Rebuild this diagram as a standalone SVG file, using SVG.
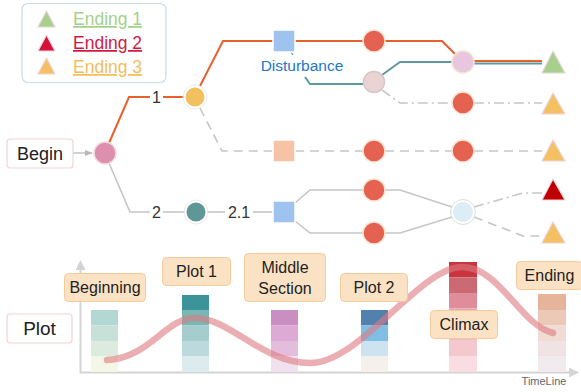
<svg xmlns="http://www.w3.org/2000/svg" width="581" height="392" viewBox="0 0 581 392">
<style>
  text { font-family: "Liberation Sans", Arial, sans-serif; }
  .lbl { font-size: 16px; fill: #222; text-anchor: middle; dominant-baseline: central; }
  .num { font-size: 16px; fill: #333; text-anchor: middle; dominant-baseline: central; }
  .box { fill: #fce2c4; stroke: #f6cb9c; stroke-width: 1; }
  .red { fill: #e56150; stroke: #f6e6d3; stroke-width: 1.5; }
  .sq { stroke: #ffffff; stroke-width: 1.5; }
  .tri { stroke: #ead3dc; stroke-width: 1.2; stroke-linejoin: round; }
  .orange { fill: none; stroke: #e8602c; stroke-width: 2; }
  .gray { fill: none; stroke: #c6c6c6; stroke-width: 1.6; }
  .dash { fill: none; stroke: #c6c6c6; stroke-width: 1.6; stroke-dasharray: 9 6; }
  .dashdot { fill: none; stroke: #c6c6c6; stroke-width: 1.6; stroke-dasharray: 10 4 2 4; }
  .teal { fill: none; stroke: #5e9aa0; stroke-width: 2; }
  .axis { stroke: #d4d4d4; stroke-width: 2; fill: none; }
</style>
<defs>
  <marker id="arr" viewBox="0 0 10 10" refX="9" refY="5" markerWidth="6" markerHeight="6" orient="auto">
    <path d="M0,1 L10,5 L0,9 Z" fill="#b8b8b8"/>
  </marker>
  <marker id="axarr" viewBox="0 0 10 10" refX="8" refY="5" markerWidth="5" markerHeight="5" orient="auto">
    <path d="M0,0 L10,5 L0,10 Z" fill="#d4d4d4"/>
  </marker>
</defs>
<rect width="581" height="392" fill="#ffffff"/>

<!-- Legend -->
<g id="legend">
  <rect x="22" y="3.5" width="144" height="79" rx="6" fill="#ffffff" stroke="#c8dbef" stroke-width="1.2"/>
  <polygon points="46.5,11 38,27 55,27" fill="#a8d08d" class="tri"/>
  <polygon points="46.5,35 38,51 55,51" fill="#d5133a" class="tri"/>
  <polygon points="46.5,58 38,74 55,74" fill="#f4c062" class="tri"/>
  <text x="73" y="25" font-size="17.5" fill="#a5d08a" text-decoration="underline">Ending 1</text>
  <text x="73" y="49" font-size="17.5" fill="#d21a3e" text-decoration="underline">Ending 2</text>
  <text x="73" y="73" font-size="17.5" fill="#f3bd5c" text-decoration="underline">Ending 3</text>
</g>

<!-- Connectors -->
<g id="connectors">
  <line x1="73" y1="153" x2="92" y2="153" stroke="#b8b8b8" stroke-width="1.3" marker-end="url(#arr)"/>
  <polyline class="orange" points="109,143 129,97 150,97"/>
  <line class="orange" x1="163" y1="97" x2="185" y2="97"/>
  <polyline class="orange" points="200,86 223,41 273,41"/>
  <line class="orange" x1="295" y1="41" x2="363" y2="41"/>
  <polyline class="orange" points="385,41 442,41 455,54"/>
  <line class="orange" x1="474" y1="61" x2="542" y2="61"/>
  <line x1="291" y1="52" x2="293" y2="55" stroke="#5e9aa0" stroke-width="1.2"/>
  <polyline class="teal" points="305,77 310,84 363,84"/>
  <polyline class="teal" points="382,75 400,62 452,62"/>
  <line class="teal" x1="474" y1="63.5" x2="542" y2="63.5"/>
  <polyline class="dashdot" points="382,90 400,103 452,103"/>
  <line class="dashdot" x1="474" y1="103" x2="542" y2="103"/>
  <polyline class="dash" points="200,108 222,151 273,151"/>
  <line class="dash" x1="295" y1="151" x2="363" y2="151"/>
  <line class="dash" x1="385" y1="151" x2="452" y2="151"/>
  <line class="dash" x1="474" y1="151" x2="542" y2="151"/>
  <polyline class="gray" points="109,163 130,212 150,212"/>
  <line class="gray" x1="163" y1="212" x2="186" y2="212"/>
  <line class="gray" x1="206" y1="212" x2="225" y2="212"/>
  <line class="gray" x1="253" y1="212" x2="273" y2="212"/>
  <polyline class="gray" points="295,203 310,190 363,190"/>
  <polyline class="gray" points="385,190 400,190 452,207"/>
  <polyline class="gray" points="295,221 310,233 363,233"/>
  <polyline class="gray" points="385,233 400,233 452,217"/>
  <polyline class="dashdot" points="474,207 523,193 542,193"/>
  <polyline class="dash" points="474,217 523,236 542,236"/>
</g>

<!-- Tree nodes -->
<g id="begin">
  <rect x="7" y="139" width="66" height="29" rx="3" fill="#ffffff" stroke="#f2d3d6" stroke-width="1.2"/>
  <text x="40" y="153.5" font-size="18" fill="#222" text-anchor="middle" dominant-baseline="central">Begin</text>
</g>
<g id="n-begin"><circle cx="105" cy="153" r="11" fill="#dd8fae" stroke="#f3dcdc" stroke-width="1.5"/></g>
<g id="lbl-1"><text class="num" x="156.5" y="97">1</text></g>
<g id="n-1"><circle cx="195" cy="97" r="10.5" fill="#f1c160" stroke="#ffffff" stroke-width="2"/><circle cx="195" cy="97" r="12" fill="none" stroke="#e6e6e6" stroke-width="0.8"/></g>
<g id="lbl-2"><text class="num" x="156.5" y="212">2</text></g>
<g id="n-2"><circle cx="196" cy="212" r="10.5" fill="#5f9797" stroke="#ffffff" stroke-width="2"/><circle cx="196" cy="212" r="12" fill="none" stroke="#e6e6e6" stroke-width="0.8"/></g>
<g id="lbl-21"><text class="num" x="239" y="212">2.1</text></g>

<g id="sq-disturbance"><rect class="sq" x="273" y="30" width="22" height="22" fill="#9dc3ee"/></g>
<g id="lbl-disturbance"><text x="302" y="65" font-size="15.5" fill="#1f78c8" text-anchor="middle" dominant-baseline="central">Disturbance</text></g>
<g id="sq-mid"><rect class="sq" x="273" y="140" width="22" height="22" fill="#f7c3a6"/></g>
<g id="sq-low"><rect class="sq" x="273" y="201" width="22" height="22" fill="#9dc3ee"/></g>

<g id="c-r1"><circle class="red" cx="374" cy="41" r="11"/></g>
<g id="c-pinkl"><circle cx="374" cy="82" r="10.5" fill="#e9d4d3" stroke="#d6c7c7" stroke-width="1.5"/></g>
<g id="c-pink"><circle cx="463" cy="62" r="11" fill="#e8c6df" stroke="#f4e4d4" stroke-width="1.5"/></g>
<g id="c-r2"><circle class="red" cx="463" cy="103" r="11"/></g>
<g id="c-r3"><circle class="red" cx="374" cy="151" r="11"/></g>
<g id="c-r4"><circle class="red" cx="463" cy="151" r="11"/></g>
<g id="c-r5"><circle class="red" cx="374" cy="190" r="11"/></g>
<g id="c-r6"><circle class="red" cx="374" cy="233" r="11"/></g>
<g id="c-blue"><circle cx="463" cy="212" r="11" fill="#ddedf6" stroke="#ffffff" stroke-width="2"/><circle cx="463" cy="212" r="12.5" fill="none" stroke="#d0d8d0" stroke-width="0.8"/></g>

<g id="t-1"><polygon class="tri" points="553,51 542,73 565,73" fill="#a8d08d"/></g>
<g id="t-2"><polygon class="tri" points="553,93 542,114 565,114" fill="#f4c062"/></g>
<g id="t-3"><polygon class="tri" points="553,140 542,161 565,161" fill="#f4c062"/></g>
<g id="t-4"><polygon class="tri" points="553,179 542,200 565,200" fill="#c00000"/></g>
<g id="t-5"><polygon class="tri" points="553,222 542,243 565,243" fill="#f4c062"/></g>

<!-- Plot chart -->
<g id="plot-label">
  <rect x="7" y="314" width="65" height="29" rx="3" fill="#ffffff" stroke="#f2d3d6" stroke-width="1.2"/>
  <text x="39.5" y="328.5" font-size="19" fill="#222" text-anchor="middle" dominant-baseline="central">Plot</text>
</g>
<g id="axes">
  <line class="axis" x1="80.5" y1="373" x2="80.5" y2="262" marker-end="url(#axarr)"/>
  <line class="axis" x1="80" y1="372.5" x2="577" y2="372.5" marker-end="url(#axarr)"/>
  <text x="544" y="381" font-size="11" fill="#666" text-anchor="middle" dominant-baseline="central">TimeLine</text>
</g>

<g id="bar-beginning">
  <rect x="91" y="310" width="27" height="15.5" fill="#b3d7d3"/>
  <rect x="91" y="325.5" width="27" height="15.5" fill="#c8e1d8"/>
  <rect x="91" y="341" width="27" height="15.5" fill="#dcebdd"/>
  <rect x="91" y="356.5" width="27" height="15.5" fill="#f4f6e6"/>
</g>
<g id="bar-plot1">
  <rect x="182" y="295" width="27" height="15" fill="#3c939a"/>
  <rect x="182" y="310" width="27" height="15.5" fill="#79b7b5"/>
  <rect x="182" y="325.5" width="27" height="15.5" fill="#a6cdcd"/>
  <rect x="182" y="341" width="27" height="15.5" fill="#bcdade"/>
  <rect x="182" y="356.5" width="27" height="15.5" fill="#dcebed"/>
</g>
<g id="bar-middle">
  <rect x="271" y="310" width="27" height="15.5" fill="#c98fc2"/>
  <rect x="271" y="325.5" width="27" height="15.5" fill="#dcaad5"/>
  <rect x="271" y="341" width="27" height="15.5" fill="#e4bddc"/>
  <rect x="271" y="356.5" width="27" height="15.5" fill="#f1e0ee"/>
</g>
<g id="bar-plot2">
  <rect x="361" y="310" width="27" height="15.5" fill="#5281ae"/>
  <rect x="361" y="325.5" width="27" height="15.5" fill="#80bfe3"/>
  <rect x="361" y="341" width="27" height="15.5" fill="#cde3ef"/>
  <rect x="361" y="356.5" width="27" height="15.5" fill="#f5f1ea"/>
</g>
<g id="bar-climax">
  <rect x="449" y="262" width="28" height="15.5" fill="#c9353f"/>
  <rect x="449" y="277.5" width="28" height="15.5" fill="#cc6a74"/>
  <rect x="449" y="293" width="28" height="15.5" fill="#df8d9a"/>
  <rect x="449" y="308.5" width="28" height="15.5" fill="#e7a5ae"/>
  <rect x="449" y="324" width="28" height="16" fill="#efbac2"/>
  <rect x="449" y="340" width="28" height="16" fill="#f3c8cf"/>
  <rect x="449" y="356" width="28" height="16" fill="#fadde3"/>
</g>
<g id="bar-ending">
  <rect x="538" y="294" width="28" height="16" fill="#e5b49b"/>
  <rect x="538" y="310" width="28" height="15.5" fill="#ecc9b6"/>
  <rect x="538" y="325.5" width="28" height="15.5" fill="#f0dcd3"/>
  <rect x="538" y="341" width="28" height="15.5" fill="#efe3e3"/>
  <rect x="538" y="356.5" width="28" height="15.5" fill="#f1eaef"/>
</g>

<g id="curve">
  <path d="M107,360 C150,358 165,318 195,318 C230,318 262,363 310,363 C360,363 420,267 462,267 C500,267 520,325 553,333" fill="none" stroke="#de7a80" stroke-opacity="0.6" stroke-width="6.5" stroke-linecap="round"/>
</g>

<g id="lbl-beginning"><rect class="box" x="64.5" y="273.5" width="81" height="28" rx="4"/><text class="lbl" x="105" y="287.5">Beginning</text></g>
<g id="lbl-plot1"><rect class="box" x="162.5" y="257.5" width="68" height="28" rx="4"/><text class="lbl" x="196.5" y="271.5">Plot 1</text></g>
<g id="lbl-middle"><rect class="box" x="244.5" y="253.5" width="81" height="48" rx="4"/><text class="lbl" x="285" y="267.5">Middle</text><text class="lbl" x="285" y="288">Section</text></g>
<g id="lbl-plot2"><rect class="box" x="340.5" y="273.5" width="67" height="28" rx="4"/><text class="lbl" x="374" y="287.5">Plot 2</text></g>
<g id="lbl-climax"><rect class="box" x="430.5" y="310.5" width="67" height="28" rx="4"/><text class="lbl" x="464" y="324.5">Climax</text></g>
<g id="lbl-ending"><rect class="box" x="516.5" y="261.5" width="66" height="28" rx="4"/><text class="lbl" x="549.5" y="275.5">Ending</text></g>
</svg>
